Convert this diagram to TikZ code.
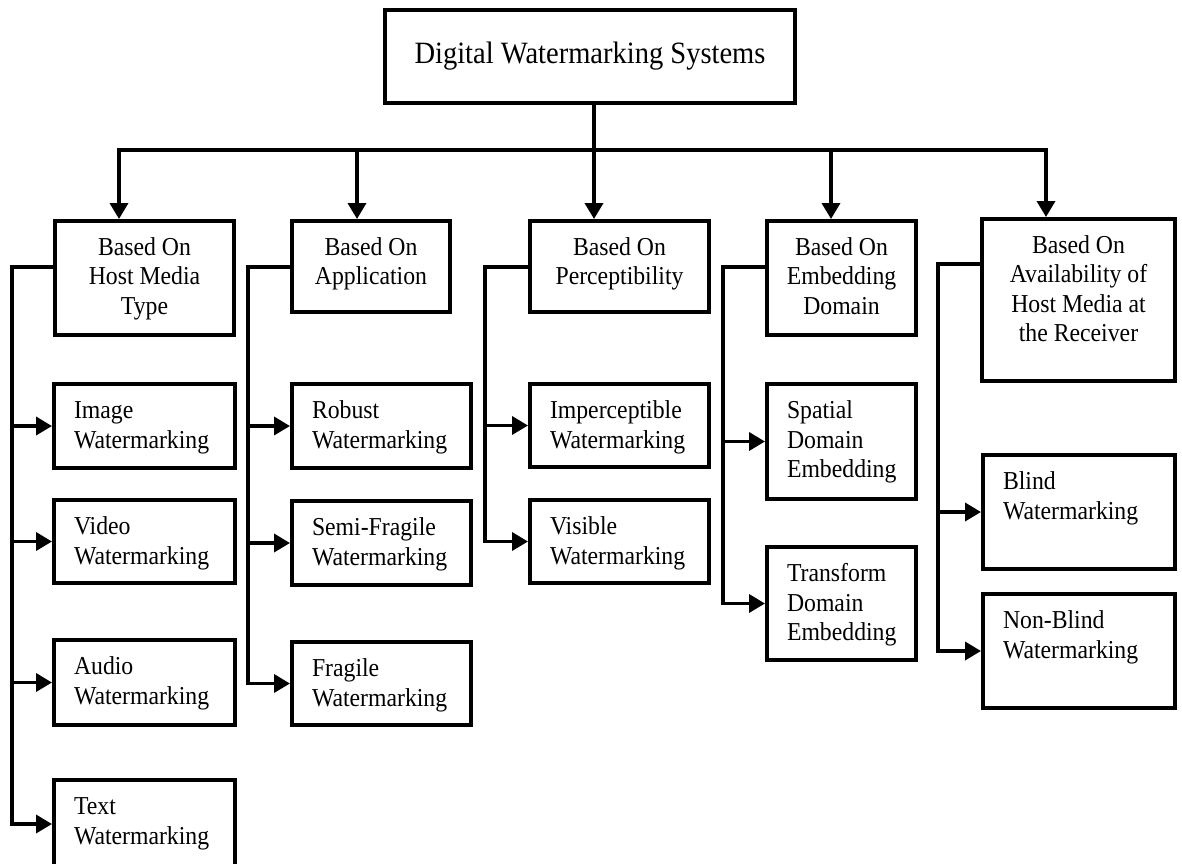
\documentclass[tikz,border=0pt]{standalone}
\usepackage{fontspec}
\setmainfont{Liberation Serif}
\newfontfamily\narrowserif[FakeStretch=0.92]{Liberation Serif}
\usetikzlibrary{arrows.meta}

% box contents: width, height (inside the frame), lines of text
\newcommand\leafcontent[3]{%
  \begin{minipage}[t][#2pt][t]{#1pt}\narrowserif\fontsize{25.8pt}{29.5pt}\selectfont
    \raggedright\leftskip=20pt\relax\rule{0pt}{34.5pt}#3\end{minipage}}
\newcommand\headcontent[3]{%
  \begin{minipage}[t][#2pt][t]{#1pt}\narrowserif\fontsize{25.8pt}{29.5pt}\selectfont
    \centering\rule{0pt}{34pt}#3\end{minipage}}

\tikzset{
  frame/.style={draw=black, line width=4pt, fill=white, inner sep=0pt,
    outer sep=2pt, anchor=north west},
  wire/.style={draw=black, line width=3.6pt, line join=miter},
  arr/.style={wire, -{Triangle[length=16pt,width=18pt]}},
}

\begin{document}
\begin{tikzpicture}[x=1pt, y=-1pt]
\useasboundingbox (0,0) rectangle (1182,863);

% root
\node[frame] (root) at (383,8) {%
  \begin{minipage}[t][93pt][t]{410pt}\narrowserif\fontsize{31pt}{36pt}\selectfont
    \centering\rule{0pt}{53pt}Digital Watermarking Systems\end{minipage}};

% category boxes
\node[frame] (host)  at (53,219)  {\headcontent{179}{114}{Based On\\Host Media\\Type}};
\node[frame] (app)   at (290,219) {\headcontent{158}{91}{Based On\\Application}};
\node[frame] (perc)  at (528,219) {\headcontent{179}{91}{Based On\\Perceptibility}};
\node[frame] (emb)   at (765,219) {\headcontent{149}{114}{Based On\\Embedding\\Domain}};
\node[frame] (avail) at (980,217) {\headcontent{193}{162}{Based On\\Availability of\\Host Media at\\the Receiver}};

% host media type
\node[frame] (image) at (52,382) {\leafcontent{181}{84}{Image\\Watermarking}};
\node[frame] (video) at (52,498) {\leafcontent{181}{83}{Video\\Watermarking}};
\node[frame] (audio) at (52,638) {\leafcontent{181}{85}{Audio\\Watermarking}};
\node[frame] (textw) at (52,778) {\leafcontent{181}{88}{Text\\Watermarking}};

% application
\node[frame] (robust)  at (290,382) {\leafcontent{179}{84}{Robust\\Watermarking}};
\node[frame] (semi)    at (290,499) {\leafcontent{179}{84}{Semi-Fragile\\Watermarking}};
\node[frame] (fragile) at (290,640) {\leafcontent{179}{83}{Fragile\\Watermarking}};

% perceptibility
\node[frame] (imperc)  at (528,382) {\leafcontent{179}{83}{Imperceptible\\Watermarking}};
\node[frame] (visible) at (528,498) {\leafcontent{179}{83}{Visible\\Watermarking}};

% embedding domain
\node[frame] (spatial)   at (765,382) {\leafcontent{149}{115}{Spatial\\Domain\\Embedding}};
\node[frame] (transform) at (765,545) {\leafcontent{149}{113}{Transform\\Domain\\Embedding}};

% availability of host media
\node[frame] (blind)    at (981,453) {\leafcontent{192}{114}{Blind\\Watermarking}};
\node[frame] (nonblind) at (981,592) {\leafcontent{192}{114}{Non-Blind\\Watermarking}};

% bus from the root to the categories
\coordinate (d1) at (119,150);
\coordinate (d2) at (357,150);
\coordinate (d3) at (594,150);
\coordinate (d4) at (831,150);
\coordinate (d5) at (1046,150);
\draw[arr] (d3) -- (d1) -- (d1 |- host.north);
\draw[arr] (d3) -- (d5) -- (d5 |- avail.north);
\draw[arr] (d2) -- (d2 |- app.north);
\draw[arr] (d4) -- (d4 |- emb.north);
\draw[arr] (root.south -| d3) -- (d3 |- perc.north);

% branch lines to the leaves
\coordinate (b1) at (12,267);
\coordinate (b2) at (248,267);
\coordinate (b3) at (485,267);
\coordinate (b4) at (723,267);
\coordinate (b5) at (938,264);

\draw[arr] (host.west |- b1) -- (b1) |- (textw.west);
\draw[arr] (b1 |- image.west) -- (image.west);
\draw[arr] (b1 |- video.west) -- (video.west);
\draw[arr] (b1 |- audio.west) -- (audio.west);

\draw[arr] (app.west |- b2) -- (b2) |- (fragile.west);
\draw[arr] (b2 |- robust.west) -- (robust.west);
\draw[arr] (b2 |- semi.west) -- (semi.west);

\draw[arr] (perc.west |- b3) -- (b3) |- (visible.west);
\draw[arr] (b3 |- imperc.west) -- (imperc.west);

\draw[arr] (emb.west |- b4) -- (b4) |- (transform.west);
\draw[arr] (b4 |- spatial.west) -- (spatial.west);

\draw[arr] (avail.west |- b5) -- (b5) |- (nonblind.west);
\draw[arr] (b5 |- blind.west) -- (blind.west);
\end{tikzpicture}
\end{document}
